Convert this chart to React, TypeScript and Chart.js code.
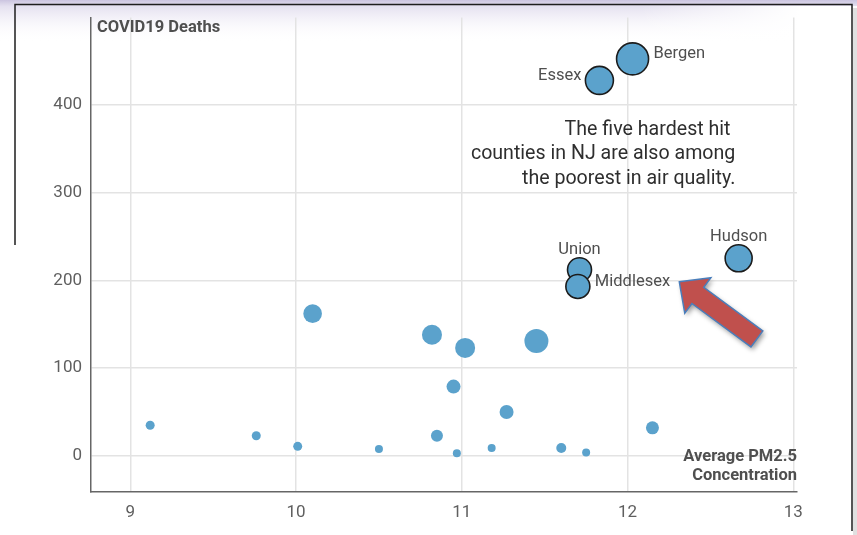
import React, { useEffect, useRef } from "react";
import { Chart, registerables } from "chart.js";
Chart.register(...registerables);

// Other NJ counties
const pm25 = [9.12, 9.76, 10.01, 10.10, 10.50, 10.82, 10.85, 10.95, 10.97, 11.02, 11.18, 11.27, 11.45, 11.60, 11.75, 12.15];
const deaths = [35, 23, 11, 162, 8, 138, 23, 79, 3, 123, 9, 50, 131, 9, 4, 32];
const sizes = [4.5, 4.5, 4.5, 9.3, 4, 10, 6, 7, 4, 10, 4, 7, 12, 5, 4, 6.5];

// Five hardest hit counties
const counties = ["Essex", "Bergen", "Union", "Middlesex", "Hudson"];
const countyPm25 = [11.83, 12.03, 11.71, 11.70, 12.67];
const countyDeaths = [427.5, 452, 212, 193, 225];
const countySizes = [14, 16, 12, 12, 13.5];

const xTicks = [9, 10, 11, 12, 13];
const yTicks = [0, 100, 200, 300, 400];

const yTitle = "COVID19 Deaths";
const xTitle = ["Average PM2.5", "Concentration"];
const noteLines = ["The five hardest hit ", "counties in NJ are also among", "the poorest in air quality."];
const noteAnchor = { x: 12.65, y: 371 };
const arrowTip = { x: 12.312, y: 198.3 };
const arrowTail = { x: 12.78, y: 133.3 };

const FONT = "Roboto, 'Open Sans', sans-serif";
const placements = ["left", "right", "top", "right", "top"];

const decorPlugin = {
  id: "decor",
  beforeDraw(chart: any) {
    const { ctx, width, height } = chart;
    ctx.save();
    ctx.fillStyle = "#ffffff";
    ctx.fillRect(0, 0, width, height);
    const g = ctx.createLinearGradient(0, 0, 0, 42);
    g.addColorStop(0, "rgba(200,193,222,0.95)");
    g.addColorStop(0.15, "rgba(222,217,236,0.8)");
    g.addColorStop(1, "rgba(255,255,255,0)");
    ctx.fillStyle = g;
    ctx.fillRect(0, 0, width, 42);
    const h = ctx.createLinearGradient(640, 0, 800, 0);
    h.addColorStop(0, "rgba(255,255,255,0)");
    h.addColorStop(1, "rgba(255,255,255,1)");
    ctx.fillStyle = h;
    ctx.fillRect(0, 6, width, 36);
    ctx.restore();
  },
  afterDraw(chart: any) {
    const { ctx } = chart;
    ctx.save();
    ctx.fillStyle = "rgba(0,0,0,0.12)";
    ctx.fillRect(853, 8, 4, 527);
    ctx.strokeStyle = "#1e1e1e";
    ctx.lineWidth = 1.5;
    ctx.beginPath();
    ctx.moveTo(15, 245);
    ctx.lineTo(15, 4.5);
    ctx.lineTo(852, 4.5);
    ctx.lineTo(852, 531);
    ctx.stroke();
    ctx.restore();
  },
};

const annotPlugin = {
  id: "annot",
  afterDatasetsDraw(chart: any) {
    const { ctx, chartArea } = chart;
    const xs = chart.scales.x;
    const ys = chart.scales.y;
    ctx.save();
    // axis titles
    ctx.fillStyle = "#4f4f4f";
    ctx.font = `bold 16.5px ${FONT}`;
    ctx.textBaseline = "middle";
    ctx.textAlign = "left";
    ctx.fillText(yTitle, chartArea.left + 6, chartArea.top + 10);
    ctx.textAlign = "right";
    ctx.fillText(xTitle[0], chartArea.right, chartArea.bottom - 35);
    ctx.fillText(xTitle[1], chartArea.right, chartArea.bottom - 16);

    // point labels
    const meta = chart.getDatasetMeta(0);
    ctx.font = `16.5px ${FONT}`;
    ctx.fillStyle = "#4f4f4f";
    counties.forEach((name, i) => {
      const el = meta.data[i];
      const r = countySizes[i];
      const p = placements[i];
      if (p === "left") {
        ctx.textAlign = "right";
        ctx.fillText(name, el.x - r - 4, el.y - 5);
      } else if (p === "right") {
        ctx.textAlign = "left";
        ctx.fillText(name, el.x + r + 5, el.y - 5);
      } else {
        ctx.textAlign = "center";
        ctx.fillText(name, el.x, el.y - r - 8);
      }
    });

    // note
    ctx.font = `19.6px ${FONT}`;
    ctx.fillStyle = "#2e2e2e";
    ctx.textAlign = "right";
    const nx = xs.getPixelForValue(noteAnchor.x);
    const ny = ys.getPixelForValue(noteAnchor.y);
    noteLines.forEach((line, i) => ctx.fillText(line, nx, ny + i * 24.5));

    // arrow
    const tx = xs.getPixelForValue(arrowTip.x);
    const ty = ys.getPixelForValue(arrowTip.y);
    const ex = xs.getPixelForValue(arrowTail.x);
    const ey = ys.getPixelForValue(arrowTail.y);
    const len = Math.hypot(ex - tx, ey - ty);
    const ux = (ex - tx) / len, uy = (ey - ty) / len;
    const nxv = -uy, nyv = ux;
    const headLen = 23, headW = 22, shaftW = 10;
    const pt = (a: number, b: number) => [tx + ux * a + nxv * b, ty + uy * a + nyv * b];
    const poly = [pt(0, 0), pt(headLen, -headW), pt(headLen, -shaftW), pt(len, -shaftW), pt(len, shaftW), pt(headLen, shaftW), pt(headLen, headW)];
    ctx.shadowColor = "rgba(0,0,0,0.4)";
    ctx.shadowBlur = 5;
    ctx.shadowOffsetX = 2;
    ctx.shadowOffsetY = 3;
    ctx.beginPath();
    poly.forEach(([a, b], i) => (i ? ctx.lineTo(a, b) : ctx.moveTo(a, b)));
    ctx.closePath();
    ctx.fillStyle = "#c0504d";
    ctx.fill();
    ctx.shadowColor = "transparent";
    ctx.strokeStyle = "#4a7ebb";
    ctx.lineWidth = 1.5;
    ctx.lineJoin = "miter";
    ctx.stroke();
    ctx.restore();
  },
};

export default function App() {
  const ref = useRef<HTMLCanvasElement>(null);
  useEffect(() => {
    document.body.style.margin = "0";
    const chart = new Chart(ref.current as HTMLCanvasElement, {
      type: "bubble",
      data: {
        datasets: [
          {
            data: counties.map((_, i) => ({ x: countyPm25[i], y: countyDeaths[i], r: countySizes[i] })),
            backgroundColor: "#5ba2cc",
            borderColor: "#1c1c1c",
            borderWidth: 1.6,
          },
          {
            data: pm25.map((v, i) => ({ x: v, y: deaths[i], r: sizes[i] })),
            backgroundColor: "#5ba2cc",
            borderWidth: 0,
          },
        ],
      },
      options: {
        animation: false,
        responsive: false,
        events: [],
        layout: { padding: { top: 15, right: 60, left: 0, bottom: 0 } },
        plugins: { legend: { display: false }, tooltip: { enabled: false } },
        scales: {
          x: {
            type: "linear",
            min: 8.763,
            max: 13.022,
            afterBuildTicks: (s: any) => {
              s.ticks = xTicks.map((v) => ({ value: v }));
            },
            afterFit: (s: any) => {
              s.height = 43;
              s.paddingLeft = 0;
              s.paddingRight = 0;
            },
            ticks: { font: { family: FONT, size: 17 }, color: "#5f5f5f", padding: 11, callback: (v: any) => String(v) },
            grid: { color: "#e3e3e3", lineWidth: 1.5, drawTicks: false },
            border: { display: true, color: "#666", width: 1.5 },
          },
          y: {
            type: "linear",
            min: -41,
            max: 499,
            afterBuildTicks: (s: any) => {
              s.ticks = yTicks.map((v) => ({ value: v }));
            },
            afterFit: (s: any) => {
              s.width = 91;
              s.paddingTop = 0;
              s.paddingBottom = 0;
            },
            ticks: { font: { family: FONT, size: 17 }, color: "#5f5f5f", padding: 9, callback: (v: any) => String(v) },
            grid: { color: "#e3e3e3", lineWidth: 1.5, drawTicks: false },
            border: { display: true, color: "#666", width: 1.5 },
          },
        },
      },
      plugins: [decorPlugin, annotPlugin],
    } as any);
    return () => chart.destroy();
  }, []);
  return <canvas ref={ref} width={857} height={535} style={{ display: "block" }} />;
}
